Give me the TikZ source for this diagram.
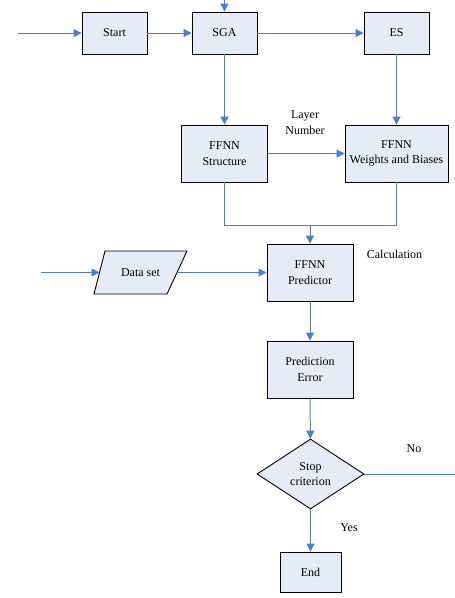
\documentclass[tikz,border=0pt]{standalone}
\usepackage{fontspec}
\setmainfont{Liberation Serif}
\newfontfamily\lserif{Liberation Serif}
\usetikzlibrary{shapes.geometric,arrows.meta}
\definecolor{boxfill}{HTML}{E6ECF7}
\definecolor{linkblue}{HTML}{4A7EC9}
\begin{document}
\begin{tikzpicture}[x=1pt,y=-1pt,
  every node/.style={font=\lserif\fontsize{12}{15.5}\selectfont},
  box/.style={draw=black,line width=0.9pt,fill=boxfill,rectangle,inner sep=0pt,align=center},
  decision/.style={draw=black,line width=0.9pt,fill=boxfill,diamond,inner sep=0pt,align=center,minimum width=107pt,minimum height=70pt},
  link/.style={draw=linkblue,line width=1pt},
  arr/.style={link,-{Triangle[length=8pt,width=8pt]}},
  lbl/.style={align=center,inner sep=0pt}]
\useasboundingbox (0,0) rectangle (455,598);
\node[box,minimum width=65pt,minimum height=42pt] (start) at (114.5,33) {Start};
\node[box,minimum width=65pt,minimum height=42pt] (sga) at (224.5,33) {SGA};
\node[box,minimum width=65pt,minimum height=42pt] (es) at (396.5,33) {ES};
\node[box,minimum width=86pt,minimum height=57pt] (struct) at (224.5,153.5) {FFNN\\Structure};
\node[box,minimum width=103pt,minimum height=57pt] (wb) at (396.5,153.5) {FFNN\\Weights and Biases};
\node[box,minimum width=86pt,minimum height=57pt] (pred) at (310,272.5) {FFNN\\Predictor};
\node[box,minimum width=86pt,minimum height=57pt] (err) at (310,369.5) {Prediction\\Error};
\node[decision] (dia) at (310.5,474) {Stop\\criterion};
\node[box,minimum width=61pt,minimum height=40pt] (end) at (310.5,572) {End};
\draw[line width=0.9pt,fill=boxfill] (105,251) -- (187,251) -- (167,294) -- (94,294) -- cycle;
\node[lbl] (data) at (140.5,272.5) {Data set};
\coordinate (dsL) at (99.5,272.5);
\coordinate (dsR) at (177,272.5);
\node[lbl] (layer) at (305,122.5) {Layer\\Number};
\node[lbl] (calc) at (394.5,254) {Calculation};
\node[lbl] (no) at (414,449) {No};
\node[lbl] (yes) at (349,528) {Yes};
\coordinate (in1) at (18,33);
\coordinate (top) at (224.5,0);
\coordinate (in2) at (41,272.5);
\coordinate (jl) at (224.5,225);
\coordinate (jr) at (396.5,225);
\coordinate (j) at (310,225);
\coordinate (noend) at (455,474);
\draw[arr] (in1) -- (start);
\draw[arr] (top) -- (sga);
\draw[arr] (start) -- (sga);
\draw[arr] (sga) -- (es);
\draw[arr] (sga) -- (struct);
\draw[arr] (es) -- (wb);
\draw[arr] (struct) -- (wb);
\draw[link] (struct.south) -- (jl) -- (jr) -- (wb.south);
\draw[arr] (j) -- (pred);
\draw[arr] (in2) -- (dsL);
\draw[arr] (dsR) -- (pred);
\draw[arr] (pred) -- (err);
\draw[arr] (err) -- (dia);
\draw[arr] (dia) -- (end);
\draw[link] (dia.east) -- (noend);
\end{tikzpicture}
\end{document}
